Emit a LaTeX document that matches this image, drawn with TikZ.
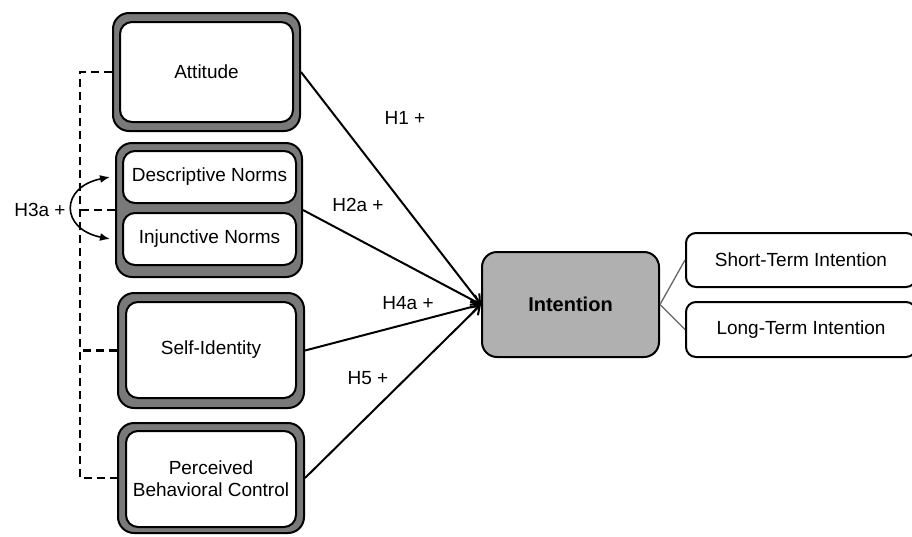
\documentclass[tikz,border=0pt]{standalone}
\usepackage{fontspec}
\setmainfont{Liberation Sans}
\usetikzlibrary{arrows.meta,positioning}

\begin{document}
\begin{tikzpicture}[x=1pt,y=-1pt,
        outerbox/.style={draw=black,line width=2pt,fill=gray!95!black,rounded corners=16pt,inner sep=0pt},
        innerbox/.style={draw=black,line width=2pt,fill=white,rounded corners=12pt,inner sep=0pt,align=center,font=\fontsize{19}{22}\selectfont},
        sidebox/.style={draw=black,line width=2pt,fill=white,rounded corners=10pt,inner sep=0pt,font=\fontsize{19}{22}\selectfont},
        hlabel/.style={font=\fontsize{19}{22}\selectfont},
        patharrow/.style={line width=2pt,-{Straight Barb[length=8pt,width=11pt]}},
        dashline/.style={line width=2.2pt,dash pattern=on 8pt off 5pt}]
        \useasboundingbox (0,0) rectangle (912,536);
        % predictors
        \node[outerbox,minimum width=187pt,minimum height=118pt] (attOut) at (206.5,72) {};
        \node[innerbox,minimum width=173pt,minimum height=100pt] (att) at (206.5,72) {Attitude};
        \node[outerbox,minimum width=186pt,minimum height=134pt] (normOut) at (209,210) {};
        \node[innerbox,minimum width=173pt,minimum height=52pt] (desc) at (209.5,177) {Descriptive Norms};
        \node[innerbox,minimum width=173pt,minimum height=52pt] (inj) at (209.5,239) {Injunctive Norms};
        \node[outerbox,minimum width=186pt,minimum height=115pt] (selfOut) at (211,350.5) {};
        \node[innerbox,minimum width=170pt,minimum height=96pt] (self) at (211,350) {Self-Identity};
        \node[outerbox,minimum width=186pt,minimum height=110pt] (pbcOut) at (211,478) {};
        \node[innerbox,minimum width=170pt,minimum height=96pt] (pbc) at (211,479) {Perceived\\Behavioral Control};
        % outcome
        \node[draw=black,line width=2pt,fill=gray!62,rounded corners=15pt,minimum width=177pt,minimum height=105pt,font=\fontsize{20}{23}\selectfont\bfseries] (int) at (570.5,304.5) {Intention};
        \node[sidebox,minimum width=230pt,minimum height=54pt] (st) at (801,260) {Short-Term Intention};
        \node[sidebox,minimum width=230pt,minimum height=55pt] (lt) at (801,329.5) {Long-Term Intention};
        \draw[gray!80!black,line width=1.3pt] (int.east) -- (st.west);
        \draw[gray!80!black,line width=1.3pt] (int.east) -- (lt.west);
        % paths
        \draw[patharrow] (attOut.east) -- (int.west);
        \draw[patharrow] (normOut.east) -- (int.west);
        \draw[patharrow] (selfOut.east) -- (int.west);
        \draw[patharrow] (pbcOut.east) -- (int.west);
        \node[hlabel] (h1) at (405,118) {H1 +};
        \node[hlabel] (h2a) at (358,205) {H2a +};
        \node[hlabel] (h4a) at (408,303) {H4a +};
        \node[hlabel] (h5) at (368,378) {H5 +};
        % moderation
        \coordinate (rail) at (80,0);
        \draw[dashline] (attOut.west) -- (attOut.west -| rail) -- (pbcOut.west -| rail) -- (pbcOut.west);
        \draw[dashline] (normOut.west) -- (normOut.west -| rail);
        \draw[dashline] (selfOut.west) -- (selfOut.west -| rail);
        \draw[line width=1.6pt,{Latex[length=10pt,width=8pt]}-{Latex[length=10pt,width=8pt]}] ([xshift=-12pt]desc.west) .. controls +(-50,10) and +(-50,-10) .. ([xshift=-12pt]inj.west);
        \node[hlabel] (h3a) at (40,210) {H3a +};
\end{tikzpicture}
\end{document}
